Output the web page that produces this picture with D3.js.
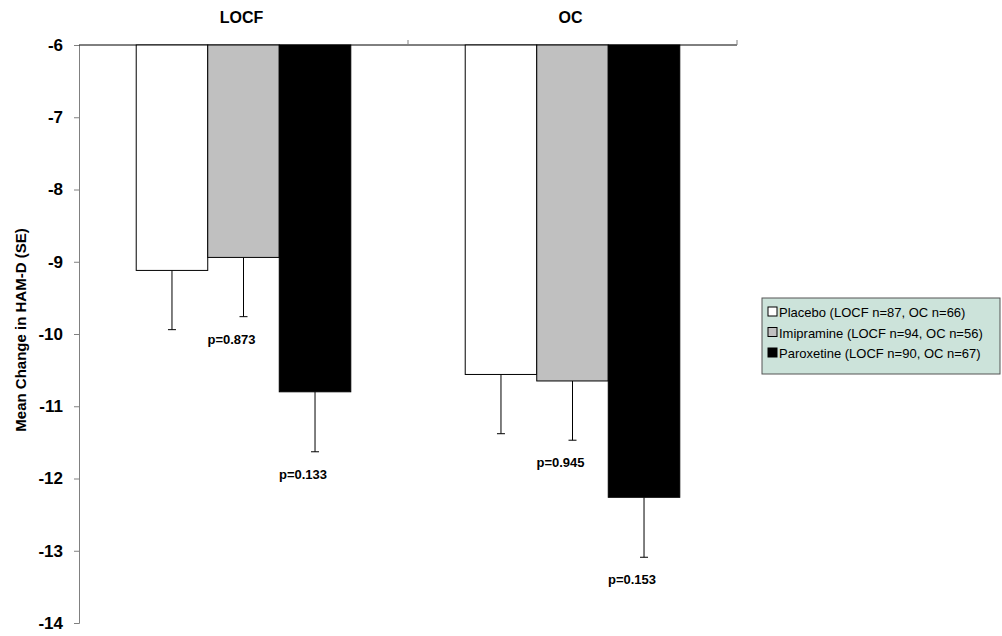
<!DOCTYPE html>
<html>
<head>
<meta charset="UTF-8">
<title>HAM-D change</title>
<script src="https://d3js.org/d3.v7.min.js"></script>
<style>
  body { margin: 0; background: #fff; }
  svg text { font-family: Arial, "Liberation Sans", sans-serif; }
</style>
</head>
<body>
<svg width="1002" height="636"></svg>
<script>
const categories = ['LOCF', 'OC'];
const series = ['Placebo', 'Imipramine', 'Paroxetine'];
const legendLabels = ['Placebo (LOCF n=87, OC n=66)', 'Imipramine (LOCF n=94, OC n=56)', 'Paroxetine (LOCF n=90, OC n=67)'];
const colors = ['#ffffff', '#c0c0c0', '#000000'];
const means = {
  LOCF: [-9.12, -8.94, -10.8],
  OC:   [-10.56, -10.65, -12.26]
};
const errBottom = {
  LOCF: [-9.94, -9.76, -11.63],
  OC:   [-11.38, -11.47, -13.09]
};
const pLabels = {
  LOCF: [null, 'p=0.873', 'p=0.133'],
  OC:   [null, 'p=0.945', 'p=0.153']
};
const yTicks = [-6, -7, -8, -9, -10, -11, -12, -13, -14];

const svg = d3.select('svg');
const mLeft = 79, mRight = 737, mTop = 45, mBottom = 623;

const y = d3.scaleLinear().domain([-6, -14]).range([mTop, mBottom]);
const x0 = d3.scaleBand().domain(categories).range([mLeft, mRight]);
const x1 = d3.scaleBand().domain(series).range([0, x0.bandwidth()]).paddingOuter(0.8);

// y axis
const yAxis = svg.append('g')
  .attr('transform', `translate(${mLeft},0)`)
  .call(d3.axisLeft(y).tickValues(yTicks).tickSize(5).tickFormat(d => String(d)));
yAxis.select('.domain').attr('stroke', '#808080');
yAxis.selectAll('.tick line').attr('stroke', '#808080');
yAxis.selectAll('.tick text')
  .attr('font-size', 17).attr('font-weight', 'bold')
  .attr('font-family', 'Arial, "Liberation Sans", sans-serif')
  .attr('x', -16).attr('fill', '#000');

// top category axis line
svg.append('line').attr('x1', mLeft).attr('x2', mRight).attr('y1', y(-6)).attr('y2', y(-6))
  .attr('stroke', '#000');
svg.selectAll('.ctick').data(categories).enter().append('line')
  .attr('x1', d => x0(d) + x0.bandwidth()).attr('x2', d => x0(d) + x0.bandwidth())
  .attr('y1', y(-6)).attr('y2', y(-6) - 5).attr('stroke', '#808080');

// category titles
svg.selectAll('.ctitle').data(categories).enter().append('text')
  .attr('x', d => x0(d) + x0.bandwidth() / 2 - 2)
  .attr('y', 23)
  .attr('text-anchor', 'middle')
  .attr('font-size', 16).attr('font-weight', 'bold')
  .text(d => d);

// bars
const groups = svg.selectAll('.grp').data(categories).enter().append('g')
  .attr('transform', d => `translate(${x0(d)},0)`);

groups.each(function (c) {
  const g = d3.select(this);
  const rows = series.map((s, i) => ({ s, i, v: means[c][i], e: errBottom[c][i], p: pLabels[c][i] }));

  // error bars (drawn first so bars cover)
  g.selectAll('.err').data(rows).enter().append('line')
    .attr('x1', d => x1(d.s) + x1.bandwidth() / 2)
    .attr('x2', d => x1(d.s) + x1.bandwidth() / 2)
    .attr('y1', d => y(d.v)).attr('y2', d => y(d.e))
    .attr('stroke', '#000');
  g.selectAll('.cap').data(rows).enter().append('line')
    .attr('x1', d => x1(d.s) + x1.bandwidth() / 2 - 4)
    .attr('x2', d => x1(d.s) + x1.bandwidth() / 2 + 4)
    .attr('y1', d => y(d.e)).attr('y2', d => y(d.e))
    .attr('stroke', '#000');

  g.selectAll('rect').data(rows).enter().append('rect')
    .attr('x', d => x1(d.s))
    .attr('width', x1.bandwidth())
    .attr('y', y(-6))
    .attr('height', d => y(d.v) - y(-6))
    .attr('fill', d => colors[d.i])
    .attr('stroke', '#000').attr('stroke-width', 1);

  g.selectAll('.pl').data(rows.filter(d => d.p)).enter().append('text')
    .attr('x', d => x1(d.s) + x1.bandwidth() / 2 - 12)
    .attr('y', d => y(d.e) + 27)
    .attr('text-anchor', 'middle')
    .attr('font-size', 13).attr('font-weight', 'bold')
    .text(d => d.p);
});

// y label
svg.append('text')
  .attr('transform', 'translate(26,330) rotate(-90)')
  .attr('text-anchor', 'middle')
  .attr('font-size', 15).attr('font-weight', 'bold')
  .text('Mean Change in HAM-D (SE)');

// legend
const lg = svg.append('g').attr('transform', 'translate(762,298)');
lg.append('rect').attr('width', 238).attr('height', 76)
  .attr('fill', '#cce3da').attr('stroke', '#555');
const items = lg.selectAll('.li').data(legendLabels).enter().append('g')
  .attr('transform', (d, i) => `translate(6,${19 + i * 20.5})`);
items.append('rect').attr('x', 0).attr('y', -10).attr('width', 9).attr('height', 9)
  .attr('fill', (d, i) => colors[i]).attr('stroke', '#000');
items.append('text').attr('x', 11).attr('y', 0).attr('font-size', 13)
  .text(d => d);
</script>
</body>
</html>
